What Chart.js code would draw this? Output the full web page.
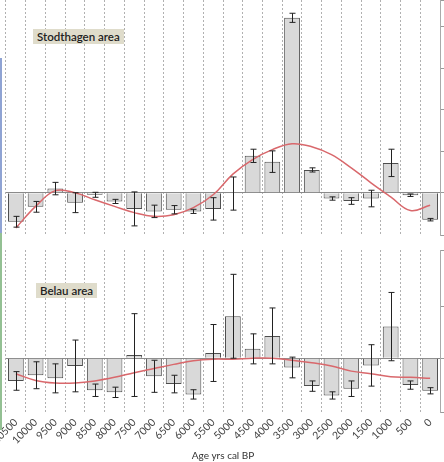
<!DOCTYPE html>
<html>
<head>
<meta charset="utf-8">
<script src="https://cdn.jsdelivr.net/npm/chart.js@4/dist/chart.umd.min.js"></script>
<style>
body { margin: 0; width: 444px; height: 462px; overflow: hidden; background: #fff; position: relative; }
.box { position: absolute; width: 450px; }
.tag { position: absolute; background: #dfdccb; color: #222; font: 600 11.5px Lato, sans-serif; padding: 1px 4px; }
.edge { position: absolute; left: 0; width: 2px; }
</style>
</head>
<body>
<div class="box" style="top:0;height:240px"><canvas id="stod"></canvas></div>
<div class="box" style="top:240px;height:222px"><canvas id="belau"></canvas></div>
<div class="tag" style="left:33px;top:29px">Stodthagen area</div>
<div class="tag" style="left:36px;top:283px">Belau area</div>
<div class="edge" style="top:58px;height:175px;background:#8fa3d3"></div>
<div class="edge" style="top:233px;height:197px;background:#93c093"></div>
<script>
var ages = ['10500', '10000', '9500', '9000', '8500', '8000', '7500', '7000', '6500', '6000', '5500',
            '5000', '4500', '4000', '3500', '3000', '2500', '2000', '1500', '1000', '500', '0'];

var stodValues = [-0.70, -0.34, 0.10, -0.24, -0.05, -0.21, -0.39, -0.45, -0.41, -0.45, -0.39,
                  -0.02, 0.89, 0.75, 4.22, 0.55, -0.14, -0.20, -0.14, 0.72, -0.06, -0.65];
var stodErrors = [0.13, 0.13, 0.15, 0.24, 0.06, 0.05, 0.41, 0.15, 0.10, 0.05, 0.27,
                  0.40, 0.16, 0.26, 0.11, 0.05, 0.04, 0.08, 0.20, 0.33, 0.03, 0.03];
var stodTrend = [-0.85, -0.33, 0.05, 0.0, -0.17, -0.33, -0.48, -0.57, -0.53, -0.36, -0.05,
                 0.45, 0.80, 1.04, 1.18, 1.11, 0.92, 0.60, 0.24, -0.10, -0.43, -0.30];

var belauValues = [-0.44, -0.33, -0.39, -0.15, -0.62, -0.66, 0.06, -0.35, -0.50, -0.70, 0.10,
                   0.81, 0.18, 0.43, -0.18, -0.54, -0.72, -0.59, -0.14, 0.61, -0.52, -0.63];
var belauErrors = [0.18, 0.26, 0.28, 0.50, 0.12, 0.10, 0.80, 0.31, 0.17, 0.09, 0.55,
                   0.81, 0.29, 0.54, 0.20, 0.10, 0.07, 0.15, 0.40, 0.66, 0.08, 0.06];
var belauTrend = [-0.30, -0.43, -0.48, -0.48, -0.44, -0.37, -0.28, -0.20, -0.12, -0.05, -0.02,
                  -0.02, 0.0, 0.0, -0.04, -0.09, -0.15, -0.25, -0.30, -0.36, -0.37, -0.39];

// error bars drawn on top of the bar dataset
var errorBars = {
    id: 'errorBars',
    afterDatasetsDraw: function(chart, args, opts){
        var meta = chart.getDatasetMeta(1);
        var y = chart.scales.y;
        var ctx = chart.ctx;
        ctx.save();
        ctx.setLineDash([]);
        ctx.strokeStyle = '#222';
        ctx.lineWidth = 1;
        meta.data.forEach(function(bar, i){
            var v = chart.data.datasets[1].data[i];
            var e = opts.errors[i];
            var x = Math.round(bar.x) + 0.5;
            var top = y.getPixelForValue(v + e);
            var bot = y.getPixelForValue(v - e);
            ctx.beginPath();
            ctx.moveTo(x, top); ctx.lineTo(x, bot);
            ctx.moveTo(x - 3, top); ctx.lineTo(x + 3, top);
            ctx.moveTo(x - 3, bot); ctx.lineTo(x + 3, bot);
            ctx.stroke();
        });
        ctx.restore();
    }
};

function panel(canvasID, values, errors, trend, yMin, yMax, showLabels){
    return new Chart(document.getElementById(canvasID), {
        type: 'bar',
        data: {
            labels: ages,
            datasets: [{
                type: 'line',
                data: trend,
                borderColor: '#d9686c',
                borderWidth: 1.5,
                pointRadius: 0,
                tension: 0.4,
                order: 0
            }, {
                data: values,
                backgroundColor: '#d9d9d9',
                borderColor: '#4d4d4d',
                borderWidth: 1,
                barPercentage: 0.8,
                categoryPercentage: 1,
                order: 1
            }]
        },
        options: {
            responsive: true,
            maintainAspectRatio: false,
            animation: false,
            layout: { padding: { left: 6, right: 0, top: showLabels ? 10 : 0, bottom: showLabels ? 0 : 5 } },
            plugins: {
                legend: { display: false },
                tooltip: { enabled: false },
                errorBars: { errors: errors }
            },
            scales: {
                x: {
                    grid: { color: '#b0b0b0', drawTicks: false, offset: true },
                    border: { display: false, dash: [2, 2] },
                    ticks: {
                        display: showLabels,
                        autoSkip: false,
                        minRotation: 45,
                        maxRotation: 45,
                        color: '#444',
                        padding: 4,
                        font: { family: 'Lato', size: 10.5 }
                    },
                    title: {
                        display: showLabels,
                        text: 'Age yrs cal BP',
                        color: '#333',
                        padding: 0,
                        font: { family: 'Lato', size: 10 }
                    },
                    afterFit: function(s){
                        s.height = showLabels ? 50 : 0;
                        s.paddingLeft = 0;
                        s.paddingRight = 0;
                    }
                },
                y: {
                    position: 'right',
                    min: yMin,
                    max: yMax,
                    ticks: { display: false, stepSize: 1 },
                    grid: {
                        color: function(c){ return c.tick && c.tick.value === 0 ? '#8a8a8a' : 'rgba(0,0,0,0)'; },
                        tickColor: '#999',
                        tickLength: 4
                    },
                    border: { display: true, color: '#aaa' },
                    afterFit: function(s){ s.width = 10; }
                }
            }
        },
        plugins: [errorBars]
    });
}

panel('stod', stodValues, stodErrors, stodTrend, -1.02, 4.65, false);
panel('belau', belauValues, belauErrors, belauTrend, -1.04, 2.09, true);
</script>
</body>
</html>
